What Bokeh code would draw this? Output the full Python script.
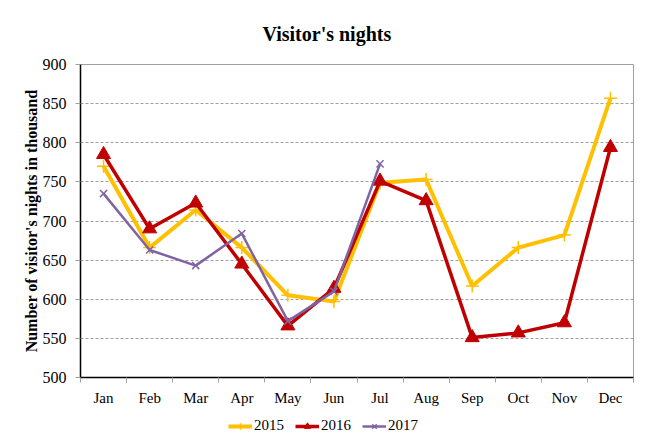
from bokeh.plotting import figure
from bokeh.layouts import column
from bokeh.models import Range1d, FixedTicker, Legend, LegendItem
from bokeh.embed import file_html
from bokeh.resources import INLINE

months = ["Jan", "Feb", "Mar", "Apr", "May", "Jun", "Jul", "Aug", "Sep", "Oct", "Nov", "Dec"]
v2015 = [770, 666, 714, 666, 605, 597, 749, 753, 617, 666, 682, 857]
v2016 = [785, 690, 723, 645, 566, 614, 751, 726, 551, 557, 570, 794]
v2017 = [735, 663, 643, 684, 572, 610, 773]
series_names = ["2015", "2016", "2017"]
yticks = [500, 550, 600, 650, 700, 750, 800, 850, 900]

x_all = list(range(1, len(months) + 1))
SERIF = "Liberation Serif"
c15, c16, c17 = "#FFC000", "#C00000", "#8064A2"

p = figure(width=647, height=410, output_backend="svg", toolbar_location=None,
           x_range=Range1d(0.5, len(months) + 0.5), y_range=Range1d(500, 900),
           min_border_left=80, min_border_right=14, min_border_top=63, min_border_bottom=33)
p.title.text = "Visitor's nights"
p.title.align = "left"
p.title.text_font = SERIF
p.title.text_font_size = "20px"
p.title.text_font_style = "bold"
p.title.text_color = "black"
p.title.offset = 182
p.title.standoff = 40
p.outline_line_color = "#A0A0A0"
p.background_fill_color = "white"
p.border_fill_color = "white"

# axes
xa = p.xaxis[0]
xa.ticker = FixedTicker(ticks=x_all, minor_ticks=[i + 0.5 for i in range(len(months) + 1)])
xa.major_label_overrides = {i: m for i, m in zip(x_all, months)}
xa.major_tick_line_color = None
xa.minor_tick_out = 5
xa.minor_tick_in = 0
xa.minor_tick_line_color = "#A0A0A0"
xa.axis_line_color = "black"
xa.axis_line_width = 1.5
xa.major_label_text_font = SERIF
xa.major_label_text_font_size = "15px"
xa.major_label_text_color = "black"
xa.major_label_standoff = 6

ya = p.yaxis[0]
ya.ticker = FixedTicker(ticks=yticks)
ya.minor_tick_line_color = None
ya.major_tick_out = 5
ya.major_tick_in = 0
ya.major_tick_line_color = "#A0A0A0"
ya.axis_line_color = "black"
ya.axis_line_width = 1.5
ya.major_label_text_font = SERIF
ya.major_label_text_font_size = "16px"
ya.major_label_text_color = "black"
ya.major_label_standoff = 9
ya.axis_label = "Number of visitor's nights in thousand"
ya.axis_label_text_font = SERIF
ya.axis_label_text_font_size = "16px"
ya.axis_label_text_font_style = "bold"
ya.axis_label_text_color = "black"
ya.axis_label_standoff = 0

p.xgrid.grid_line_color = None
p.ygrid.grid_line_color = "#A0A0A0"
p.ygrid.grid_line_dash = "3 2"
p.ygrid.ticker = FixedTicker(ticks=yticks)

p.line(x_all, v2015, line_color=c15, line_width=4)
p.scatter(x_all, v2015, marker="cross", size=13, line_color=c15, line_width=1.5)
p.line(x_all, v2016, line_color=c16, line_width=3.5)
p.scatter(x_all, v2016, marker="triangle", size=14, fill_color=c16, line_color=c16)
x17 = x_all[:len(v2017)]
p.line(x17, v2017, line_color=c17, line_width=2.5)
p.scatter(x17, v2017, marker="x", size=10, line_color=c17, line_width=1.5)

# legend strip below the chart (legend-only renderers hold a single NaN, so they draw nothing)
lg = figure(width=647, height=35, output_backend="svg", toolbar_location=None,
            x_range=Range1d(0, 1), y_range=Range1d(0, 1),
            x_axis_type=None, y_axis_type=None,
            min_border_left=0, min_border_right=0, min_border_top=0, min_border_bottom=0)
lg.grid.grid_line_color = None
lg.outline_line_color = None
lg.background_fill_color = "white"
lg.border_fill_color = "white"

nan = float("nan")
styles = [(c15, 4, "cross", 13, 1.5), (c16, 3.5, "triangle", 11, 1), (c17, 2.5, "x", 9, 1.5)]
items = []
for name, (col, lw, mk, ms, mlw) in zip(series_names, styles):
    rl = lg.line([nan], [nan], line_color=col, line_width=lw)
    rm = lg.scatter([nan], [nan], marker=mk, size=ms, line_color=col, fill_color=col, line_width=mlw)
    items.append(LegendItem(label=name, renderers=[rl, rm]))

legend = Legend(items=items, orientation="horizontal", location=(148, 11),
                label_text_font=SERIF, label_text_font_size="15px",
                label_text_color="black",
                glyph_width=24, glyph_height=16, label_standoff=2, spacing=11,
                border_line_color=None, background_fill_alpha=0, padding=2, margin=0)
lg.add_layout(legend)

layout = column(p, lg, spacing=0)
open("out.html", "w").write(file_html(layout, INLINE))
